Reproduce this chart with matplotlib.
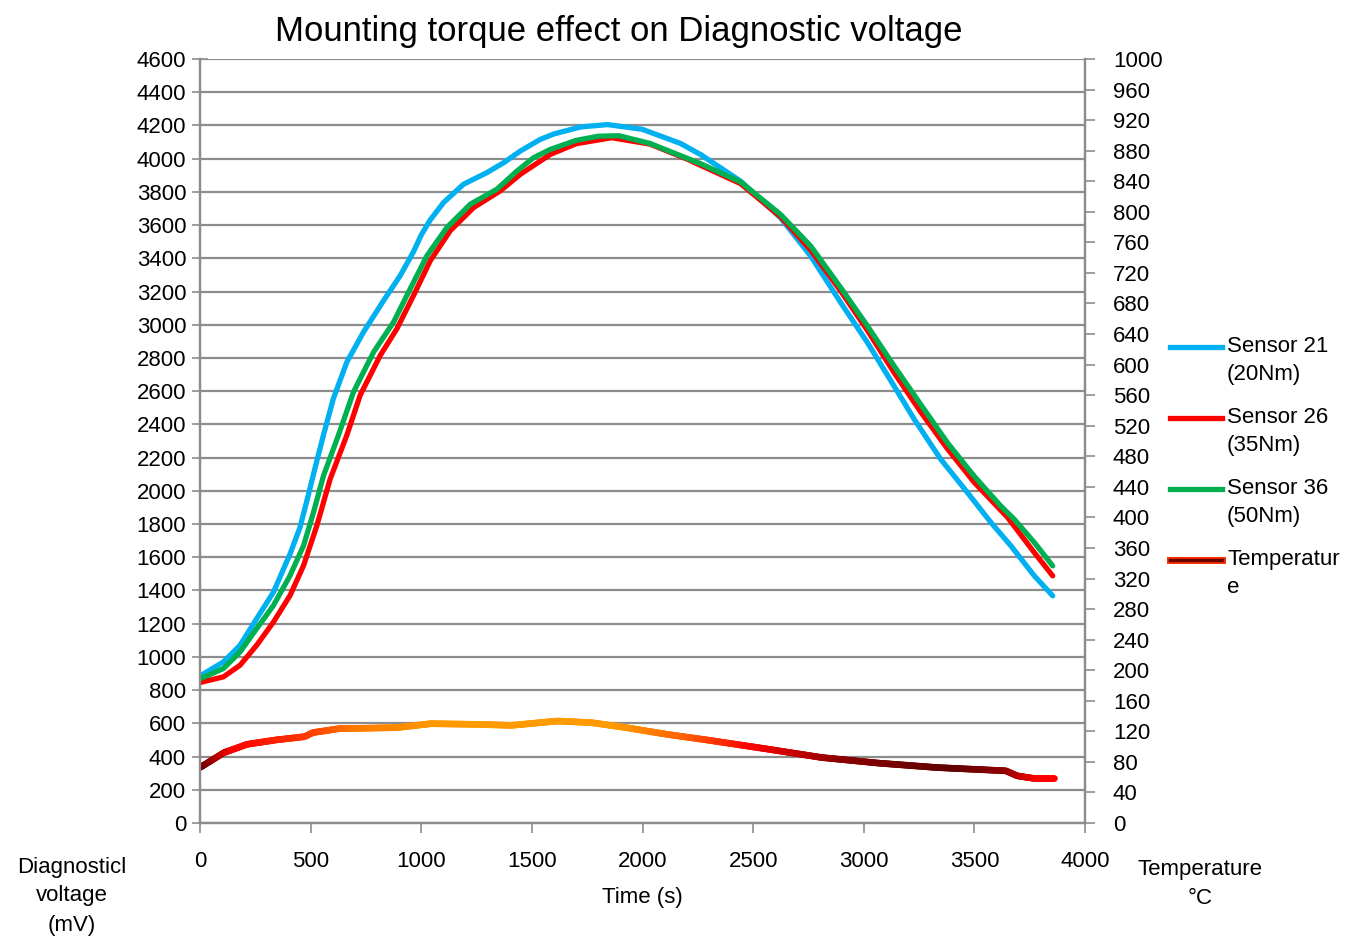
import matplotlib
matplotlib.use('Agg')
import matplotlib.pyplot as plt
import numpy as np
from matplotlib.collections import LineCollection
from matplotlib.colors import LinearSegmentedColormap
from matplotlib.lines import Line2D
import matplotlib.patheffects as pe

plt.rcParams['font.family'] = ['Liberation Sans Narrow', 'Liberation Sans', 'DejaVu Sans']

# Sensor 21 (20Nm)
t_s21 = [0, 106, 181, 256, 332, 407, 452, 483, 528, 558, 603, 664, 739, 830, 905, 965, 1000, 1040,
         1101, 1191, 1297, 1373, 1448, 1538, 1600, 1721, 1842, 1998, 2171, 2262, 2443, 2624, 2760,
         2896, 3017, 3137, 3228, 3348, 3469, 3575, 3665, 3771, 3854]
v_s21 = [885, 970, 1070, 1230, 1390, 1620, 1780, 1940, 2180, 2336, 2556, 2776, 2956, 3146, 3296,
         3440, 3540, 3630, 3736, 3846, 3916, 3976, 4046, 4116, 4149, 4191, 4205, 4177, 4092, 4025,
         3865, 3644, 3414, 3133, 2892, 2631, 2431, 2190, 1989, 1809, 1669, 1488, 1368]

# Sensor 26 (35Nm)
t_s26 = [0, 106, 181, 256, 332, 407, 468, 528, 588, 664, 724, 815, 890, 965, 1041, 1131, 1237,
         1357, 1448, 1584, 1700, 1860, 2033, 2206, 2262, 2443, 2624, 2760, 2896, 3017, 3137, 3260,
         3380, 3500, 3650, 3771, 3854]
v_s26 = [846, 880, 950, 1070, 1210, 1370, 1550, 1790, 2070, 2336, 2576, 2816, 2976, 3176, 3386,
         3566, 3706, 3806, 3906, 4026, 4090, 4126, 4088, 3995, 3960, 3850, 3650, 3450, 3203, 2965,
         2712, 2470, 2250, 2050, 1840, 1628, 1488]

# Sensor 36 (50Nm)
t_s36 = [0, 106, 181, 256, 332, 407, 468, 513, 558, 626, 694, 785, 875, 950, 1026, 1116, 1222,
         1342, 1433, 1508, 1584, 1700, 1800, 1894, 2033, 2206, 2262, 2443, 2624, 2760, 2896, 3017,
         3137, 3257, 3378, 3498, 3619, 3680, 3771, 3854]
v_s36 = [868, 930, 1030, 1170, 1310, 1490, 1670, 1870, 2090, 2336, 2596, 2836, 3016, 3216, 3416,
         3586, 3726, 3816, 3926, 4006, 4056, 4110, 4135, 4138, 4092, 4000, 3970, 3860, 3664, 3474,
         3223, 2992, 2752, 2521, 2290, 2090, 1909, 1829, 1689, 1548]

# Temperature (degC, right axis)
t_temp = [0, 109, 213, 343, 473, 510, 629, 888, 1044, 1252, 1408, 1616, 1771, 1927, 2109, 2291,
          2551, 2810, 3070, 3330, 3642, 3694, 3771, 3862]
v_temp = [72.6, 92.2, 103.0, 108.7, 113.0, 118.3, 123.5, 124.8, 130.0, 129.1, 127.8, 133.5, 131.3,
          124.8, 116.1, 108.7, 97.4, 85.7, 78.3, 72.6, 68.3, 61.7, 58.3, 58.3]

# gradient stops along time for the temperature line
grad_t = [0, 150, 450, 700, 1100, 1900, 2200, 2500, 2900, 3400, 3650, 3800, 3900]
grad_c = ['#6a0000', '#ff0000', '#ff3000', '#ff7a00', '#ff9a00', '#ff9a00', '#ff6000',
          '#ff0000', '#8a0000', '#600000', '#900000', '#ff0000', '#ff0000']

legend_labels = ['Sensor 21\n(20Nm)', 'Sensor 26\n(35Nm)', 'Sensor 36\n(50Nm)', 'Temperatur\ne']
line_colors = ['#00b0f0', '#ff0000', '#00b050']

fig = plt.figure(figsize=(13.7, 9.42), dpi=100)
ax = fig.add_axes([200/1370, 1-823/942, 885/1370, 764/942])
ax2 = ax.twinx()

grid_col = '#8c8c8c'
ax.set_xlim(0, 4000)
ax.set_ylim(0, 4600)
ax2.set_ylim(0, 1000)
ax.set_xticks(np.arange(0, 4001, 500))
ax.set_yticks(np.arange(0, 4601, 200))
ax2.set_yticks(np.arange(0, 1001, 40))
ax.yaxis.grid(True, color=grid_col, linewidth=1.6)
ax.set_axisbelow(True)

for a in (ax, ax2):
    for s in a.spines.values():
        s.set_color(grid_col)
        s.set_linewidth(1.6)
    a.spines['top'].set_visible(False)
ax.tick_params(axis='y', direction='inout', length=12, width=1.2, color=grid_col, labelsize=16, pad=4)
ax.tick_params(axis='x', direction='out', length=7, width=1.2, color=grid_col, labelsize=16, pad=13)
ax2.tick_params(axis='y', direction='out', length=7, width=1.2, color=grid_col, labelsize=16, pad=13)

ax.plot(t_s21, v_s21, color=line_colors[0], linewidth=3.8, solid_capstyle='round', zorder=3)
ax.plot(t_s26, v_s26, color=line_colors[1], linewidth=3.8, solid_capstyle='round', zorder=4)
ax.plot(t_s36, v_s36, color=line_colors[2], linewidth=3.8, solid_capstyle='round', zorder=5)

# temperature with colour gradient
tt = np.linspace(t_temp[0], t_temp[-1], 600)
vv = np.interp(tt, t_temp, v_temp)
cmap = LinearSegmentedColormap.from_list('tgrad', list(zip(np.array(grad_t) / grad_t[-1], grad_c)))
pts = np.column_stack([tt, vv]).reshape(-1, 1, 2)
segs = np.concatenate([pts[:-1], pts[1:]], axis=1)
lc = LineCollection(segs, colors=cmap(tt[:-1] / grad_t[-1]), linewidth=4.8, capstyle='round')
ax2.add_collection(lc)

fig.text(0.452, 0.967, 'Mounting torque effect on Diagnostic voltage', ha='center', va='center', fontsize=25)
fig.text(642/1370, 1-898/942, 'Time (s)', ha='center', va='center', fontsize=16)
fig.text(72/1370, 1-896/942, 'Diagnosticl\nvoltage\n(mV)', ha='center', va='center', fontsize=16,
         linespacing=1.5)
fig.text(1200/1370, 1-884/942, 'Temperature\n°C', ha='center', va='center', fontsize=16, linespacing=1.45)

# legend drawn by hand so the handle sits on the first text line
W, H = 1370, 942
for i, lab in enumerate(legend_labels):
    y = 1 - (347 + 71 * i) / H
    if i < 3:
        fig.add_artist(Line2D([1170/W, 1222/W], [y, y], color=line_colors[i], linewidth=3.8))
    else:
        fig.add_artist(Line2D([1170/W, 1222/W], [y, y], color='#6a0000', linewidth=2.5,
                              path_effects=[pe.Stroke(linewidth=5, foreground='#ff3000'), pe.Normal()]))
    fig.text(1227/W, y + 11/H, lab, ha='left', va='top', fontsize=16, linespacing=1.45)

fig.savefig('out.png', dpi=100)
